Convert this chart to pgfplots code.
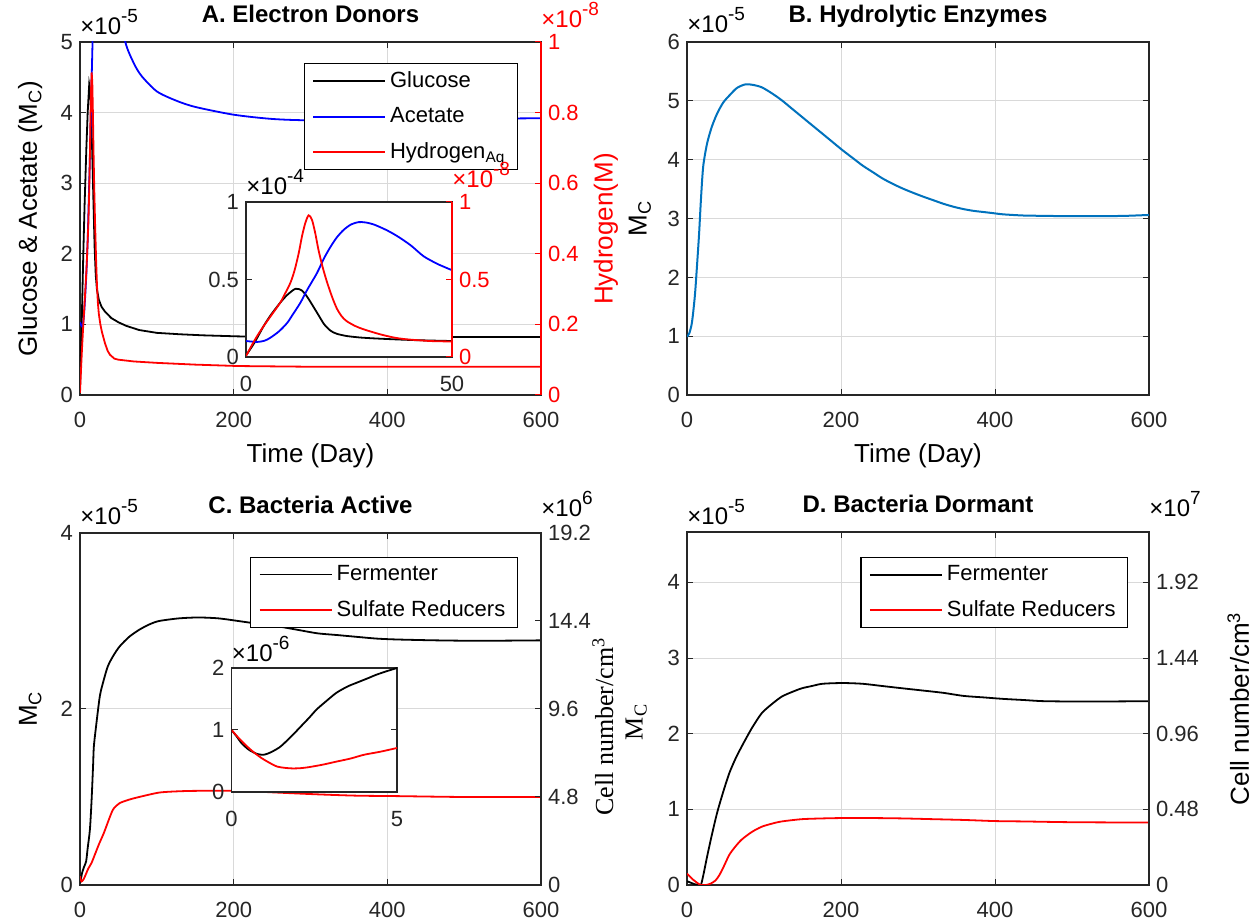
\documentclass[border=0pt]{standalone}
\usepackage{fontspec}
\setmainfont{Liberation Sans}
\newfontfamily\timesfont{Liberation Serif}
\usepackage{pgfplots}
\pgfplotsset{compat=1.18}

\definecolor{matblue}{rgb}{0,0.447,0.741}

\newcommand\lab{\fontsize{13}{15}\selectfont}
\newcommand\ex[1]{×10\raisebox{1ex}{\fontsize{9.5}{11}\selectfont #1}}
\tikzset{expo/.style={font=\fontsize{12}{14}\selectfont, inner sep=0pt}}

\pgfplotsset{
  mlab/.style={
    scale only axis,
    xmin=0, xmax=600,
    axis line style={black!85, line width=0.6pt, -},
    tick style={black!85, line width=0.5pt},
    major tick length=3pt,
    tick label style={font=\fontsize{11}{13}\selectfont, text=black!85},
    xticklabel style={yshift=-5pt},
    title style={font=\bfseries\fontsize{12}{14}\selectfont, at={(0.5,1)}, anchor=base, yshift=3.5pt},
    grid style={black!15, line width=0.5pt},
    legend style={draw=black, line width=0.6pt, fill=white,
      font=\fontsize{11}{13}\selectfont, inner xsep=4pt, inner ysep=2pt, row sep=4.5pt},
    legend cell align=left,
    legend image code/.code={\draw[##1] (0pt,0pt) -- (36pt,0pt);},
  },
  crv/.style={line width=0.9pt, smooth, tension=0.45},
}

\begin{document}
\begin{tikzpicture}
\useasboundingbox (0,0) rectangle (626.5pt,462pt);

% ---------------- A. Electron Donors ----------------
\begin{axis}[mlab, at={(40pt,264.5pt)}, anchor=south west, width=230.5pt, height=176.5pt,
  ymin=0, ymax=5,
  xtick={0,200,400,600}, xticklabels={0,200,400,600},
  ytick={0,1,2,3,4,5}, yticklabels={0,1,2,3,4,5}, ytick pos=left,
  grid=major,
  title={A. Electron Donors}, xlabel={Time (Day)},
  ylabel={Glucose \& Acetate (M\textsubscript{C})},
  every axis y label/.style={at={(rel axis cs:-0.108,0.5)}, rotate=90, anchor=center, font=\lab},
  every axis x label/.style={at={(rel axis cs:0.5,-0.173)}, anchor=center, font=\lab},
  extra description/.code={\node[expo, anchor=base west, yshift=3.5pt] at (0,1) {\ex{-5}};}]
\addplot[black, line width=0.9pt] coordinates {(0,0.1) (2,0.9) (4.3,2.0) (6,2.7) (8.3,3.5) (10,4.0) (12,4.4) (13.5,4.3) (14.8,3.9) (16,3.4) (17.6,2.7) (19,2.1) (20.5,1.7) (22,1.5) (24.5,1.35) (28,1.25) (32.6,1.18) (40.7,1.09) (50,1.03) (60,0.98) (77,0.92) (100,0.88) (130,0.86) (160,0.845) (206,0.83) (300,0.82) (400,0.82) (600,0.82)};
\addplot[blue, crv] coordinates {(0,1.03) (2.7,0.97) (4.5,1.05) (5.9,1.24) (8,1.65) (10,2.2) (11.5,2.8) (13.2,3.5) (15,4.4) (17.2,5.4) (19,6.4) (20.5,7.1) (23.7,8.2) (27.3,8.7) (31,8.55) (36.7,7.8) (43.1,6.5) (50,5.6) (59,5.0) (70,4.7) (80,4.52) (100,4.3) (125,4.17) (150,4.08) (200,3.97) (250,3.91) (300,3.89) (400,3.89) (500,3.91) (600,3.92)};
\end{axis}
\begin{axis}[mlab, at={(40pt,264.5pt)}, anchor=south west, width=230.5pt, height=176.5pt,
  ymin=0, ymax=1, axis x line=none, axis y line*=right,
  y axis line style={red, -},
  ytick={0,0.2,0.4,0.6,0.8,1}, yticklabels={0,0.2,0.4,0.6,0.8,1},
  ytick style={red}, yticklabel style={text=red},
  ylabel={Hydrogen(M)},
  every axis y label/.style={at={(rel axis cs:1.141,0.47)}, rotate=90, anchor=center, text=red, font=\lab},
  legend style={at={(0.95,0.94)}, anchor=north east},
  extra description/.code={\node[expo, text=red, anchor=base west, yshift=7pt] at (1,1) {\ex{-8}};}]
\addlegendimage{black, line width=0.9pt}\addlegendentry{Glucose}
\addlegendimage{blue, line width=0.9pt}\addlegendentry{Acetate}
\addplot[red, line width=0.9pt] coordinates {(0,0.006) (1.5,0.08) (2.7,0.135) (4.3,0.2) (5.9,0.26) (8.3,0.35) (9.5,0.41) (10.8,0.48) (11.8,0.56) (12.8,0.67) (13.6,0.78) (14.4,0.865) (15.2,0.914) (16,0.886) (16.8,0.8) (17.6,0.69) (18.6,0.58) (19.7,0.48) (21,0.38) (22.1,0.31) (23.3,0.26) (24.5,0.23) (26.5,0.2) (28.6,0.178) (32.6,0.146) (36,0.125) (39,0.114) (44.7,0.103) (50,0.1) (70,0.095) (100,0.091) (150,0.086) (206,0.082) (300,0.08) (600,0.08)};
\addlegendentry{Hydrogen\textsubscript{Aq}}
\end{axis}

% inset A
\begin{axis}[mlab, at={(123pt,283.5pt)}, anchor=south west, width=103pt, height=77.5pt,
  xmin=0, xmax=50, ymin=0, ymax=1,
  xtick={0,50}, xticklabels={0,50}, ytick={0,0.5,1}, yticklabels={0,0.5,1}, ytick pos=left,
  xticklabel style={yshift=-1pt},
  axis background/.style={fill=white},
  extra description/.code={\node[expo, anchor=base west, yshift=3.5pt] at (0,1) {\ex{-4}};}]
\addplot[black, crv] coordinates {(0,0.01) (2,0.09) (4.3,0.2) (6,0.27) (8.3,0.35) (10,0.4) (12,0.44) (13.5,0.43) (14.8,0.39) (16,0.34) (17.6,0.27) (19,0.21) (20.5,0.17) (22,0.15) (24.5,0.135) (28,0.125) (32.6,0.118) (40.7,0.109) (50,0.103)};
\addplot[blue, crv] coordinates {(0,0.103) (2.7,0.097) (4.5,0.105) (5.9,0.124) (8,0.165) (10,0.22) (11.5,0.28) (13.2,0.35) (15,0.44) (17.2,0.54) (19,0.64) (20.5,0.71) (22,0.77) (23.7,0.82) (25.5,0.855) (27.3,0.87) (29,0.868) (31,0.855) (34,0.82) (36.7,0.78) (40,0.72) (43.1,0.65) (46.5,0.6) (50,0.56)};
\end{axis}
\begin{axis}[mlab, at={(123pt,283.5pt)}, anchor=south west, width=103pt, height=77.5pt,
  xmin=0, xmax=50, ymin=0, ymax=1, axis x line=none, axis y line*=right,
  y axis line style={red, -},
  ytick={0,0.5,1}, yticklabels={0,0.5,1},
  ytick style={red}, yticklabel style={text=red},
  extra description/.code={\node[expo, text=red, anchor=base west, yshift=7pt] at (1,1) {\ex{-8}};}]
\addplot[red, crv] coordinates {(0,0.006) (1.5,0.08) (2.7,0.135) (4.3,0.2) (5.9,0.26) (8.3,0.35) (9.5,0.41) (10.8,0.48) (11.8,0.56) (12.8,0.67) (13.6,0.78) (14.4,0.865) (15.2,0.914) (16,0.886) (16.8,0.8) (17.6,0.69) (18.6,0.58) (19.7,0.48) (21,0.38) (22.1,0.31) (23.3,0.26) (24.5,0.23) (26.5,0.2) (28.6,0.178) (32.6,0.146) (36,0.125) (39,0.114) (44.7,0.103) (50,0.1)};
\end{axis}

% ---------------- B. Hydrolytic Enzymes ----------------
\begin{axis}[mlab, at={(343.5pt,264.5pt)}, anchor=south west, width=231pt, height=176.5pt,
  ymin=0, ymax=6,
  xtick={0,200,400,600}, xticklabels={0,200,400,600},
  ytick={0,1,2,3,4,5,6}, yticklabels={0,1,2,3,4,5,6},
  grid=major,
  title={B. Hydrolytic Enzymes}, xlabel={Time (Day)}, ylabel={M\textsubscript{C}},
  every axis y label/.style={at={(rel axis cs:-0.102,0.5)}, rotate=90, anchor=center, font=\lab},
  every axis x label/.style={at={(rel axis cs:0.5,-0.173)}, anchor=center, font=\lab},
  extra description/.code={\node[expo, anchor=base west, yshift=4.5pt] at (0,1) {\ex{-5}};}]
\addplot[matblue, crv, line width=1pt] coordinates {(0,0.99) (3,1.05) (6,1.2) (8,1.4) (10.5,1.73) (13,2.2) (15.7,2.74) (18,3.3) (21,3.88) (26,4.27) (32,4.55) (39,4.78) (47,4.97) (55,5.09) (65,5.22) (76,5.28) (86,5.27) (97,5.23) (110,5.13) (123,5.01) (136,4.87) (149,4.73) (162,4.59) (176,4.44) (189,4.30) (202,4.16) (215,4.03) (228,3.9) (241,3.79) (254,3.68) (267,3.59) (280,3.51) (293,3.44) (307,3.37) (320,3.31) (333,3.25) (346,3.2) (359,3.16) (372,3.13) (385,3.11) (398,3.09) (411,3.07) (438,3.05) (464,3.045) (490,3.04) (542,3.04) (570,3.045) (600,3.06)};
\end{axis}

% ---------------- C. Bacteria Active ----------------
\begin{axis}[mlab, at={(40pt,19.5pt)}, anchor=south west, width=230.5pt, height=176pt,
  ymin=0, ymax=4,
  xtick={0,200,400,600}, xticklabels={0,200,400,600},
  ytick={0,2,4}, yticklabels={0,2,4}, ytick pos=left,
  grid=major,
  title={C. Bacteria Active}, ylabel={M\textsubscript{C}},
  every axis y label/.style={at={(rel axis cs:-0.108,0.5)}, rotate=90, anchor=center, font=\lab},
  legend style={at={(0.95,0.932)}, anchor=north east},
  extra description/.code={\node[expo, anchor=base west, yshift=4pt] at (0,1) {\ex{-5}};}]
\addplot[black, crv] coordinates {(0,0.1) (1,0.06) (2.5,0.13) (5,0.2) (8,0.27) (10,0.42) (12.9,0.63) (15,0.95) (17,1.35) (18,1.57) (20.6,1.78) (25.7,2.14) (30,2.3) (36,2.48) (43,2.6) (51.5,2.71) (64,2.82) (77,2.9) (90,2.96) (103,3.0) (129,3.03) (154,3.04) (180,3.03) (206,3.0) (230,2.97) (257,2.94) (283,2.9) (309,2.86) (335,2.84) (360,2.82) (386,2.8) (412,2.79) (463,2.78) (520,2.775) (600,2.78)};
\addlegendentry{Fermenter}
\addplot[red, crv] coordinates {(0,0.1) (1,0.055) (2,0.04) (3,0.045) (5,0.07) (8,0.13) (11,0.19) (15,0.25) (20,0.36) (25,0.47) (31,0.59) (37,0.73) (41,0.82) (44,0.87) (51.5,0.93) (64,0.97) (77,1.0) (103,1.05) (129,1.065) (154,1.07) (206,1.07) (257,1.05) (309,1.03) (360,1.015) (412,1.01) (500,1.0) (600,1.0)};
\addlegendentry{Sulfate Reducers}
\end{axis}
\begin{axis}[mlab, at={(40pt,19.5pt)}, anchor=south west, width=230.5pt, height=176pt,
  ymin=0, ymax=19.2, axis x line=none, axis y line*=right,
  ytick={0,4.8,9.6,14.4,19.2}, yticklabels={0,4.8,9.6,14.4,19.2},
  ylabel={\timesfont Cell number/cm\textsuperscript{3}},
  every axis y label/.style={at={(rel axis cs:1.134,0.45)}, rotate=90, anchor=center, font=\lab},
  extra description/.code={\node[expo, anchor=base west, yshift=8pt] at (1,1) {\ex{6}};}]
\end{axis}

% inset C
\begin{axis}[mlab, at={(115.75pt,66pt)}, anchor=south west, width=82.75pt, height=62pt,
  xmin=0, xmax=5, ymin=0, ymax=2,
  xtick={0,5}, xticklabels={0,5}, ytick={0,1,2}, yticklabels={0,1,2},
  xticklabel style={yshift=-1pt},
  axis background/.style={fill=white},
  extra description/.code={\node[expo, anchor=base west, yshift=3pt] at (0,1) {\ex{-6}};}]
\addplot[black, crv] coordinates {(0,1.0) (0.15,0.9) (0.3,0.79) (0.5,0.69) (0.66,0.64) (0.8,0.61) (0.96,0.6) (1.1,0.62) (1.26,0.66) (1.45,0.72) (1.6,0.79) (1.85,0.92) (2.1,1.06) (2.35,1.2) (2.57,1.33) (2.85,1.46) (3.17,1.6) (3.5,1.7) (3.77,1.76) (4.1,1.83) (4.37,1.89) (4.7,1.95) (5,2.0)};
\addplot[red, crv] coordinates {(0,1.0) (0.2,0.88) (0.42,0.76) (0.65,0.65) (0.9,0.55) (1.15,0.47) (1.38,0.41) (1.6,0.39) (1.85,0.38) (2.1,0.385) (2.33,0.40) (2.75,0.44) (3.17,0.49) (3.6,0.54) (4,0.6) (4.5,0.65) (5,0.71)};
\end{axis}

% ---------------- D. Bacteria Dormant ----------------
\begin{axis}[mlab, at={(343.5pt,19.5pt)}, anchor=south west, width=231pt, height=176.5pt,
  ymin=0, ymax=4.6667,
  xtick={0,200,400,600}, xticklabels={0,200,400,600},
  ytick={0,1,2,3,4}, yticklabels={0,1,2,3,4}, ytick pos=left,
  grid=major,
  title={D. Bacteria Dormant}, ylabel={\timesfont M\textsubscript{C}},
  every axis y label/.style={at={(rel axis cs:-0.110,0.462)}, rotate=90, anchor=center, font=\lab},
  legend style={at={(0.955,0.929)}, anchor=north east},
  extra description/.code={\node[expo, anchor=base west, yshift=3.5pt] at (0,1) {\ex{-5}};}]
\addplot[black, crv] coordinates {(0,0.05) (5,0.03) (10,0.01) (15,0.0) (18,0.0) (21,0.12) (26,0.37) (32,0.65) (39,0.95) (47,1.23) (55,1.48) (63,1.67) (71,1.83) (84,2.07) (97,2.27) (110,2.39) (123,2.49) (136,2.55) (149,2.6) (162,2.63) (176,2.66) (202,2.67) (228,2.66) (254,2.63) (280,2.6) (307,2.57) (333,2.54) (359,2.5) (385,2.48) (411,2.46) (438,2.445) (464,2.43) (520,2.425) (600,2.43)};
\addlegendentry{Fermenter}
\addplot[red, crv] coordinates {(0,0.15) (4,0.11) (8,0.07) (13,0.03) (18,0.0) (25,0.0) (31,0.02) (37,0.06) (42,0.13) (48,0.25) (55,0.4) (63,0.51) (71,0.6) (84,0.7) (97,0.77) (110,0.81) (123,0.84) (149,0.87) (176,0.88) (202,0.885) (240,0.885) (280,0.88) (320,0.87) (359,0.86) (400,0.845) (438,0.84) (500,0.83) (600,0.825)};
\addlegendentry{Sulfate Reducers}
\end{axis}
\begin{axis}[mlab, at={(343.5pt,19.5pt)}, anchor=south west, width=231pt, height=176.5pt,
  ymin=0, ymax=2.24, axis x line=none, axis y line*=right,
  ytick={0,0.48,0.96,1.44,1.92}, yticklabels={0,0.48,0.96,1.44,1.92},
  ylabel={Cell number/cm\textsuperscript{3}},
  every axis y label/.style={at={(rel axis cs:1.193,0.5)}, rotate=90, anchor=center, font=\lab},
  extra description/.code={\node[expo, anchor=base west, yshift=7.5pt] at (1,1) {\ex{7}};}]
\end{axis}

\end{tikzpicture}
\end{document}
